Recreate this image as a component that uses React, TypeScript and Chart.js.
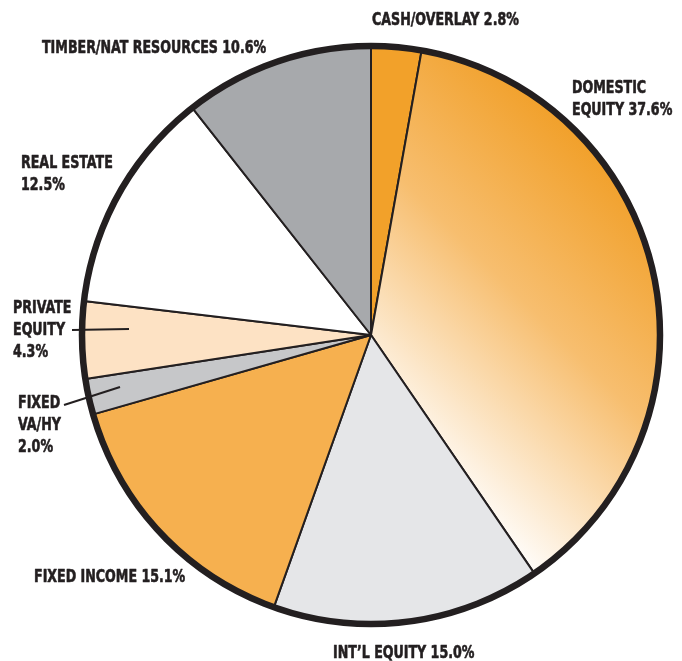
import { useEffect, useRef } from "react";
import { Chart, ArcElement, PieController } from "chart.js";

Chart.register(ArcElement, PieController);

// ---- data ----
const categories = [
  "CASH/OVERLAY",
  "DOMESTIC EQUITY",
  "INT’L EQUITY",
  "FIXED INCOME",
  "FIXED VA/HY",
  "PRIVATE EQUITY",
  "REAL ESTATE",
  "TIMBER/NAT RESOURCES",
];
const shares = [2.8, 37.6, 15.0, 15.1, 2.0, 4.3, 12.5, 10.6];

// how each category label is broken into lines ("%v" = value)
const labelLines = [
  ["CASH/OVERLAY %v"],
  ["DOMESTIC", "EQUITY %v"],
  ["INT’L EQUITY %v"],
  ["FIXED INCOME %v"],
  ["FIXED", "VA/HY", "%v"],
  ["PRIVATE", "EQUITY", "%v"],
  ["REAL ESTATE", "%v"],
  ["TIMBER/NAT RESOURCES %v"],
];

// ---- styles / layout ----
const sliceColors = [
  "#F2A12A",
  "gradient",
  "#E5E6E8",
  "#F6B04F",
  "#C6C7C9",
  "#FDE2C4",
  "#FFFFFF",
  "#A7A9AC",
];
const ink = "#231F20";
const labelPos = [
  { x: 372, y: 25 },
  { x: 572, y: 93 },
  { x: 333, y: 658 },
  { x: 34, y: 582 },
  { x: 18, y: 408 },
  { x: 13, y: 313 },
  { x: 21, y: 168 },
  { x: 42, y: 53 },
];
const leaders = [
  { from: [72, 330], to: [129, 329] },
  { from: [64, 405], to: [120, 387] },
];
const lineHeight = 22;
const fontSpec = "bold 18px 'DejaVu Sans Condensed', 'DejaVu Sans', sans-serif";
const textSqueeze = 0.78;
const pieRadius = 289;

const labelPlugin = {
  id: "pieDecor",
  afterDatasetsDraw(chart: any) {
    const { ctx, chartArea } = chart;
    const cx = (chartArea.left + chartArea.right) / 2;
    const cy = (chartArea.top + chartArea.bottom) / 2;
    const arc = chart.getDatasetMeta(0).data[0];
    const R = arc ? arc.outerRadius : pieRadius;
    ctx.save();
    // thick outer ring
    ctx.beginPath();
    ctx.arc(cx, cy, R, 0, Math.PI * 2);
    ctx.lineWidth = 6.5;
    ctx.strokeStyle = ink;
    ctx.stroke();
    // leader lines
    ctx.lineWidth = 2;
    leaders.forEach((l) => {
      ctx.beginPath();
      ctx.moveTo(l.from[0], l.from[1]);
      ctx.lineTo(l.to[0], l.to[1]);
      ctx.stroke();
    });
    // labels
    ctx.fillStyle = ink;
    ctx.strokeStyle = ink;
    ctx.lineWidth = 0.6;
    ctx.lineJoin = "round";
    ctx.font = fontSpec;
    ctx.textAlign = "left";
    ctx.textBaseline = "alphabetic";
    labelLines.forEach((lines, i) => {
      const v = shares[i].toFixed(1) + "%";
      lines.forEach((t, j) => {
        const s = t.replace("%v", v);
        ctx.save();
        ctx.translate(labelPos[i].x, labelPos[i].y + j * lineHeight);
        ctx.scale(textSqueeze, 1);
        ctx.fillText(s, 0, 0);
        ctx.strokeText(s, 0, 0);
        ctx.restore();
      });
    });
    ctx.restore();
  },
};

export default function App() {
  const ref = useRef<HTMLCanvasElement | null>(null);
  useEffect(() => {
    if (!ref.current) return;
    const chart = new Chart(ref.current, {
      type: "pie",
      data: {
        labels: categories,
        datasets: [
          {
            data: shares,
            backgroundColor: (c: any) => {
              const i = c.dataIndex;
              const col = sliceColors[i];
              if (col !== "gradient") return col;
              const area = c.chart.chartArea;
              if (!area) return "#F7C27A";
              const cx = (area.left + area.right) / 2;
              const cy = (area.top + area.bottom) / 2;
              const R = pieRadius;
              const g = c.chart.ctx.createLinearGradient(
                cx - 0.15 * R,
                cy + 0.15 * R,
                cx + 0.71 * R,
                cy - 0.71 * R
              );
              g.addColorStop(0, "#FFFFFF");
              g.addColorStop(0.55, "#F7BE6F");
              g.addColorStop(1, "#F1A02A");
              return g;
            },
            borderColor: ink,
            borderWidth: 2,
          },
        ],
      },
      options: {
        responsive: false,
        animation: false,
        radius: pieRadius,
        rotation: 0,
        layout: { padding: { left: 70, right: 10, top: 20, bottom: 11 } },
        plugins: { legend: { display: false }, tooltip: { enabled: false } },
      } as any,
      plugins: [labelPlugin],
    });
    return () => chart.destroy();
  }, []);
  return (
    <div style={{ position: "fixed", left: 0, top: 0, width: 682, height: 661, background: "#fff" }}>
      <canvas ref={ref} width={682} height={661} style={{ width: 682, height: 661 }} />
    </div>
  );
}
